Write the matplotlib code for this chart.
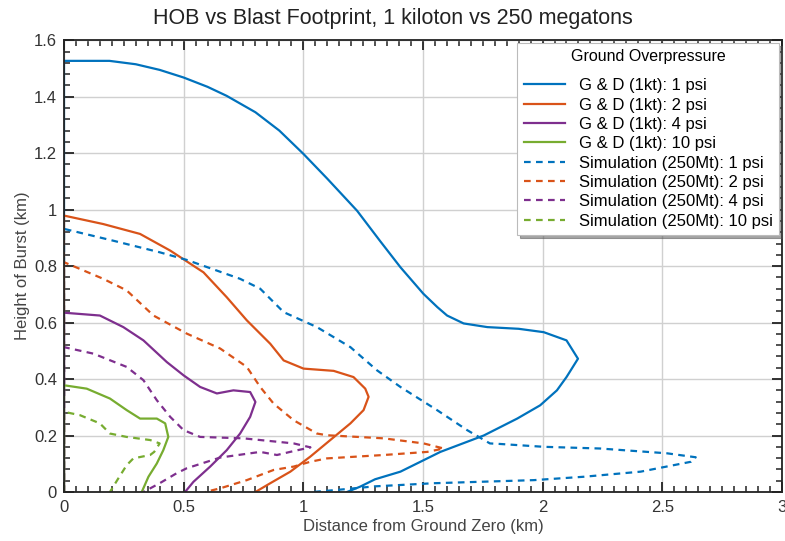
import matplotlib
matplotlib.use("Agg")
import matplotlib.pyplot as plt
from matplotlib.ticker import MultipleLocator

plt.rcParams['font.family'] = ['Liberation Sans', 'DejaVu Sans']

# ---- data (km) ----
gd1_x = [0, 0, 0.19, 0.30, 0.40, 0.50, 0.60, 0.68, 0.80, 0.90, 1.00, 1.10, 1.225, 1.32, 1.406, 1.502,
         1.56, 1.601, 1.67, 1.769, 1.90, 2.005, 2.10, 2.148,
         2.10, 2.06, 1.99, 1.894, 1.754, 1.573, 1.406, 1.30, 1.238, 1.183]
gd1_y = [0, 1.527, 1.527, 1.515, 1.495, 1.468, 1.435, 1.403, 1.345, 1.28, 1.198, 1.11, 0.996, 0.89, 0.796, 0.702,
         0.655, 0.625, 0.597, 0.584, 0.578, 0.566, 0.537, 0.472,
         0.407, 0.36, 0.307, 0.26, 0.20, 0.142, 0.072, 0.045, 0.019, 0.0]

gd2_x = [0, 0, 0.164, 0.318, 0.444, 0.583, 0.68, 0.764, 0.862, 0.918, 1.001, 1.127, 1.21, 1.259, 1.273,
         1.252, 1.197, 1.113, 1.029, 0.946, 0.862, 0.80]
gd2_y = [0, 0.979, 0.949, 0.914, 0.855, 0.778, 0.69, 0.608, 0.525, 0.466, 0.437, 0.429, 0.407, 0.366, 0.337,
         0.29, 0.243, 0.184, 0.125, 0.072, 0.031, 0.0]

gd4_x = [0, 0, 0.15, 0.248, 0.332, 0.43, 0.50, 0.569, 0.639, 0.708, 0.778, 0.80, 0.778, 0.736, 0.68,
         0.611, 0.541, 0.506]
gd4_y = [0, 0.635, 0.625, 0.584, 0.537, 0.46, 0.413, 0.372, 0.349, 0.36, 0.354, 0.319, 0.266, 0.207, 0.148,
         0.09, 0.036, 0.0]

gd10_x = [0, 0, 0.095, 0.192, 0.262, 0.318, 0.388, 0.423, 0.436, 0.415, 0.388, 0.353, 0.325]
gd10_y = [0, 0.378, 0.366, 0.331, 0.29, 0.26, 0.26, 0.243, 0.195, 0.148, 0.101, 0.054, 0.0]

sim1_x = [0, 0, 0.206, 0.40, 0.513, 0.736, 0.82, 0.918, 1.057, 1.197, 1.308, 1.406, 1.559, 1.685, 1.78,
          1.824, 2.005, 2.24, 2.52, 2.64, 2.62, 2.41, 2.173, 1.964, 1.545, 1.30, 1.15, 1.04]
sim1_y = [0, 0.932, 0.89, 0.849, 0.822, 0.755, 0.72, 0.637, 0.584, 0.513, 0.431, 0.372, 0.29, 0.219, 0.172,
          0.17, 0.16, 0.154, 0.137, 0.123, 0.107, 0.072, 0.054, 0.042, 0.031, 0.02, 0.008, 0.0]

sim2_x = [0, 0, 0.164, 0.262, 0.374, 0.513, 0.653, 0.764, 0.82, 0.876, 0.96, 1.057, 1.099, 1.336, 1.503,
          1.587, 1.518, 1.336, 1.099, 1.029, 0.96, 0.876, 0.764, 0.653, 0.59]
sim2_y = [0, 0.814, 0.755, 0.714, 0.625, 0.561, 0.508, 0.443, 0.372, 0.313, 0.254, 0.207, 0.201, 0.19, 0.172,
          0.154, 0.142, 0.131, 0.119, 0.107, 0.09, 0.078, 0.042, 0.013, 0.0]

sim4_x = [0, 0, 0.123, 0.262, 0.332, 0.388, 0.444, 0.50, 0.569, 0.75, 0.96, 1.03, 0.96, 0.89, 0.82,
          0.653, 0.513, 0.47, 0.40, 0.332]
sim4_y = [0, 0.513, 0.49, 0.443, 0.396, 0.325, 0.266, 0.219, 0.195, 0.19, 0.172, 0.158, 0.145, 0.131, 0.142,
          0.122, 0.084, 0.066, 0.031, 0.0]

sim10_x = [0, 0, 0.067, 0.15, 0.192, 0.262, 0.36, 0.40, 0.377, 0.36, 0.29, 0.262, 0.227, 0.192]
sim10_y = [0, 0.284, 0.272, 0.243, 0.207, 0.195, 0.184, 0.172, 0.142, 0.131, 0.119, 0.095, 0.048, 0.0]

labels = ["G & D (1kt): 1 psi", "G & D (1kt): 2 psi", "G & D (1kt): 4 psi", "G & D (1kt): 10 psi",
          "Simulation (250Mt): 1 psi", "Simulation (250Mt): 2 psi", "Simulation (250Mt): 4 psi",
          "Simulation (250Mt): 10 psi"]
colors = ["#0072BD", "#D95319", "#7E2F8E", "#77AC30"]

fig = plt.figure(figsize=(7.85, 5.41), dpi=100)
ax = fig.add_axes([0.0815, 0.0906, 0.9145, 0.835])

series = [(gd1_x, gd1_y), (gd2_x, gd2_y), (gd4_x, gd4_y), (gd10_x, gd10_y),
          (sim1_x, sim1_y), (sim2_x, sim2_y), (sim4_x, sim4_y), (sim10_x, sim10_y)]
for i, (xs, ys) in enumerate(series):
    ls = '-' if i < 4 else (0, (3.0, 2.4))
    ax.plot(xs, ys, color=colors[i % 4], lw=1.6, ls=ls, label=labels[i], clip_on=True)

ax.set_xlim(0, 3)
ax.set_ylim(0, 1.6)
ax.xaxis.set_minor_locator(MultipleLocator(0.05))
ax.yaxis.set_minor_locator(MultipleLocator(0.04))
ax.set_xticks([0, 0.5, 1, 1.5, 2, 2.5, 3])
ax.set_xticklabels(["0", "0.5", "1", "1.5", "2", "2.5", "3"])
ax.set_yticks([0, 0.2, 0.4, 0.6, 0.8, 1.0, 1.2, 1.4, 1.6])
ax.set_yticklabels(["0", "0.2", "0.4", "0.6", "0.8", "1", "1.2", "1.4", "1.6"])
ax.tick_params(which='both', direction='in', top=True, right=True, colors='#222222',
               labelcolor='#333333', labelsize=12)
ax.tick_params(axis='x', which='major', pad=6)
ax.tick_params(axis='y', which='major', pad=5)
ax.tick_params(which='major', length=7, width=1.3)
ax.tick_params(which='minor', length=4, width=1.1)
ax.grid(True, which='major', color='#d0d0d0', lw=1.0)
ax.set_axisbelow(True)
for s in ax.spines.values():
    s.set_linewidth(1.3)
    s.set_color('#222222')

ax.set_xlabel("Distance from Ground Zero (km)", fontsize=12, color='#444444', labelpad=3)
ax.set_ylabel("Height of Burst (km)", fontsize=12, color='#444444', labelpad=3)
fig.suptitle("HOB vs Blast Footprint, 1 kiloton vs 250 megatons", fontsize=15.5,
             x=0.5, y=0.985, color='#222222')

leg = ax.legend(loc='upper right', title="Ground Overpressure", fontsize=12, title_fontsize=11.5,
                frameon=True, fancybox=False, shadow=True, handlelength=2.45, labelspacing=0.26,
                borderaxespad=0.15, handletextpad=0.84, borderpad=0.4, framealpha=1)
leg._legend_box.sep = 10
leg.get_frame().set_edgecolor('#bbbbbb')
leg.get_frame().set_linewidth(0.8)

fig.savefig("out.png", dpi=100)
